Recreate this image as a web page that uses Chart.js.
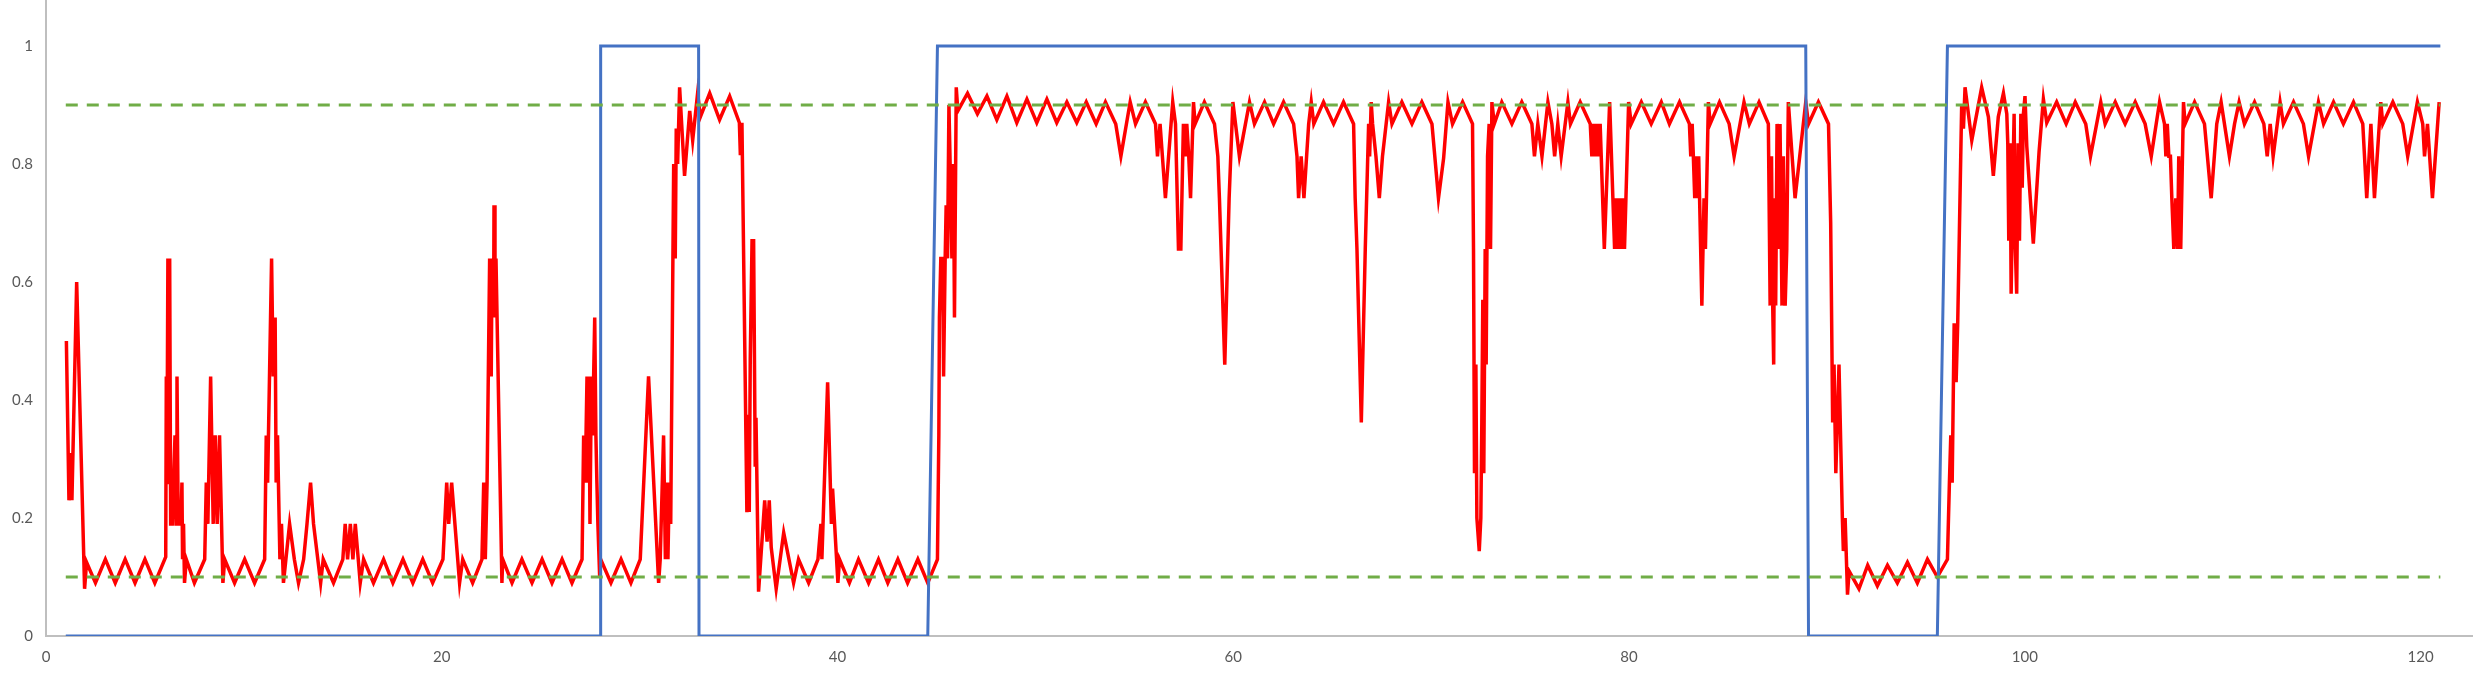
<!DOCTYPE html>
<html>
<head>
<meta charset="utf-8">
<script src="https://cdn.jsdelivr.net/npm/chart.js@4/dist/chart.umd.min.js"></script>
<style>
  html, body { margin: 0; padding: 0; background: #ffffff; }
  #wrap { width: 2473px; height: 677px; }
</style>
</head>
<body>
<div id="wrap"><canvas id="graph" width="2473" height="677"></canvas></div>
<script>
// tick labels
var xTicks = [0, 20, 40, 60, 80, 100, 120];
var yTicks = [0, 0.2, 0.4, 0.6, 0.8, 1];

// blue state line (0 / 1)
var blueX = [1, 28, 28.03, 32.98, 33, 44.56, 45.05, 88.93, 89.07, 95.58, 96.09, 121];
var blueY = [0, 0, 1, 1, 0, 0, 1, 1, 0, 0, 1, 1];

// green dashed limits
var limitX = [1, 121];
var upperLimit = 0.9;
var lowerLimit = 0.1;

// red signal, [x, y]
var redSeries = [
  [1.03,0.50],[1.16,0.23],[1.26,0.31],[1.31,0.23],[1.55,0.60],[1.95,0.08],[2.05,0.125],[2.5,0.09],[3.0,0.13],[3.5,0.09],
  [4.0,0.13],[4.5,0.09],[5.0,0.13],[5.5,0.09],[6.05,0.134],[6.08,0.44],[6.11,0.26],[6.16,0.64],[6.22,0.26],[6.25,0.64],
  [6.3,0.19],[6.38,0.19],[6.52,0.34],[6.57,0.19],[6.62,0.44],[6.68,0.19],[6.82,0.19],[6.87,0.26],[6.9,0.13],[6.95,0.19],
  [7.0,0.09],[7.09,0.13],[7.5,0.09],[8.02,0.13],[8.1,0.26],[8.18,0.19],[8.32,0.44],[8.45,0.19],[8.55,0.34],[8.65,0.19],
  [8.77,0.34],[8.94,0.09],[9.03,0.13],[9.53,0.09],[10.04,0.13],[10.54,0.09],[11.05,0.13],[11.13,0.34],[11.2,0.26],[11.4,0.64],
  [11.48,0.44],[11.58,0.54],[11.63,0.26],[11.7,0.34],[11.82,0.13],[11.9,0.19],[12.0,0.09],[12.31,0.19],[12.55,0.13],[12.76,0.09],
  [13.02,0.13],[13.19,0.19],[13.37,0.26],[13.52,0.19],[13.88,0.09],[14.01,0.13],[14.53,0.09],[15.0,0.13],[15.12,0.19],[15.24,0.13],
  [15.38,0.19],[15.51,0.13],[15.63,0.19],[15.88,0.09],[16.05,0.13],[16.55,0.09],[17.06,0.13],[17.53,0.09],[18.04,0.13],[18.54,0.09],
  [19.04,0.13],[19.54,0.09],[20.06,0.13],[20.25,0.26],[20.35,0.19],[20.5,0.26],[20.9,0.09],[21.06,0.13],[21.56,0.09],[22.03,0.13],
  [22.12,0.26],[22.2,0.13],[22.29,0.26],[22.42,0.64],[22.5,0.44],[22.54,0.64],[22.62,0.54],[22.64,0.73],[22.69,0.54],[22.74,0.64],
  [23.04,0.09],[23.08,0.13],[23.55,0.09],[24.05,0.13],[24.56,0.09],[25.07,0.13],[25.57,0.09],[26.08,0.13],[26.58,0.09],[27.09,0.13],
  [27.17,0.34],[27.25,0.26],[27.34,0.44],[27.39,0.26],[27.46,0.34],[27.49,0.19],[27.56,0.44],[27.62,0.34],[27.73,0.54],[27.79,0.34],
  [27.84,0.26],[27.89,0.19],[27.98,0.1],[28.03,0.13],[28.55,0.09],[29.06,0.13],[29.56,0.09],[30.03,0.13],[30.45,0.44],[30.96,0.09],
  [31.04,0.13],[31.21,0.34],[31.3,0.13],[31.38,0.26],[31.43,0.13],[31.5,0.26],[31.57,0.19],[31.72,0.8],[31.8,0.64],[31.85,0.86],
  [31.92,0.8],[32.02,0.93],[32.27,0.78],[32.53,0.89],[32.68,0.84],[32.93,0.92],[33.07,0.88],[33.54,0.92],[34.04,0.875],[34.55,0.915],
  [35.04,0.87],[35.09,0.815],[35.17,0.87],[35.42,0.21],[35.51,0.375],[35.54,0.21],[35.59,0.47],[35.68,0.67],[35.76,0.67],[35.84,0.29],
  [35.88,0.37],[36.01,0.075],[36.32,0.23],[36.44,0.16],[36.55,0.23],[36.65,0.15],[36.9,0.08],[37.28,0.175],[37.78,0.09],[38.03,0.13],
  [38.54,0.09],[39.01,0.13],[39.16,0.19],[39.21,0.13],[39.5,0.43],[39.69,0.19],[39.75,0.25],[40.02,0.09],[40.1,0.13],[40.6,0.09],
  [41.06,0.13],[41.57,0.09],[42.07,0.13],[42.54,0.09],[43.05,0.13],[43.54,0.09],[44.06,0.13],[44.56,0.09],[45.05,0.13],[45.12,0.34],
  [45.15,0.54],[45.22,0.64],[45.32,0.64],[45.36,0.44],[45.44,0.64],[45.49,0.73],[45.56,0.64],[45.63,0.9],[45.69,0.8],[45.78,0.64],
  [45.86,0.8],[45.91,0.54],[46.0,0.93],[46.08,0.89],[46.57,0.92],[47.07,0.885],[47.55,0.915],[48.05,0.875],[48.56,0.915],[49.06,0.87],
  [49.57,0.91],[50.07,0.87],[50.58,0.91],[51.08,0.87],[51.59,0.905],[52.09,0.87],[52.57,0.905],[53.07,0.868],[53.54,0.905],[54.06,0.868],
  [54.32,0.813],[54.79,0.905],[55.06,0.868],[55.56,0.905],[56.07,0.868],[56.17,0.813],[56.3,0.868],[56.57,0.742],[56.94,0.905],[57.08,0.868],
  [57.23,0.656],[57.35,0.656],[57.48,0.868],[57.57,0.813],[57.65,0.868],[57.75,0.813],[57.84,0.742],[57.99,0.905],[58.07,0.868],[58.54,0.905],
  [59.05,0.868],[59.22,0.813],[59.3,0.742],[59.57,0.46],[59.79,0.742],[59.98,0.905],[60.31,0.813],[60.82,0.905],[61.07,0.868],[61.58,0.905],
  [62.04,0.868],[62.54,0.905],[63.05,0.868],[63.22,0.813],[63.3,0.742],[63.43,0.813],[63.57,0.742],[63.81,0.868],[63.94,0.905],[64.07,0.868],
  [64.56,0.905],[65.07,0.868],[65.57,0.905],[66.08,0.868],[66.16,0.742],[66.25,0.656],[66.47,0.362],[66.67,0.656],[66.84,0.868],[66.89,0.813],
  [66.97,0.905],[67.04,0.868],[67.21,0.813],[67.38,0.742],[67.54,0.813],[67.85,0.905],[68.02,0.868],[68.52,0.905],[69.03,0.868],[69.53,0.905],
  [70.04,0.868],[70.37,0.742],[70.63,0.81],[70.85,0.905],[71.08,0.868],[71.59,0.905],[72.09,0.868],[72.14,0.656],[72.19,0.276],[72.26,0.46],
  [72.31,0.2],[72.43,0.144],[72.51,0.2],[72.56,0.362],[72.61,0.57],[72.66,0.276],[72.73,0.656],[72.78,0.46],[72.85,0.813],[72.93,0.868],
  [73.0,0.656],[73.07,0.905],[73.19,0.868],[73.57,0.905],[74.08,0.868],[74.58,0.905],[75.09,0.868],[75.22,0.813],[75.39,0.868],[75.6,0.813],
  [75.9,0.905],[76.1,0.868],[76.24,0.813],[76.4,0.868],[76.57,0.813],[76.91,0.905],[77.04,0.868],[77.53,0.905],[78.04,0.868],[78.12,0.813],
  [78.21,0.868],[78.29,0.813],[78.38,0.868],[78.46,0.813],[78.54,0.868],[78.75,0.656],[79.02,0.905],[79.27,0.656],[79.35,0.742],[79.44,0.656],
  [79.52,0.742],[79.61,0.656],[79.69,0.742],[79.77,0.656],[79.98,0.905],[80.11,0.868],[80.62,0.905],[81.12,0.868],[81.63,0.905],[82.04,0.868],
  [82.55,0.905],[83.05,0.868],[83.12,0.813],[83.19,0.868],[83.25,0.813],[83.32,0.742],[83.39,0.813],[83.46,0.742],[83.52,0.813],[83.68,0.56],
  [83.79,0.742],[83.86,0.656],[84.01,0.905],[84.1,0.868],[84.57,0.905],[85.06,0.868],[85.31,0.813],[85.81,0.905],[86.08,0.868],[86.57,0.905],
  [87.04,0.868],[87.13,0.56],[87.2,0.813],[87.26,0.56],[87.31,0.46],[87.35,0.742],[87.41,0.56],[87.48,0.868],[87.57,0.656],[87.63,0.868],
  [87.73,0.56],[87.8,0.813],[87.89,0.56],[87.97,0.656],[88.05,0.905],[88.39,0.742],[88.93,0.905],[89.07,0.868],[89.57,0.905],[90.08,0.868],
  [90.19,0.7],[90.29,0.362],[90.36,0.46],[90.45,0.276],[90.61,0.46],[90.78,0.2],[90.83,0.144],[90.92,0.2],[91.04,0.07],[91.12,0.11],
  [91.62,0.08],[92.06,0.12],[92.55,0.085],[93.06,0.12],[93.56,0.09],[94.07,0.125],[94.57,0.09],[95.08,0.13],[95.58,0.1],[96.09,0.13],
  [96.19,0.26],[96.26,0.34],[96.33,0.26],[96.43,0.53],[96.53,0.43],[96.61,0.53],[96.81,0.9],[96.9,0.86],[96.98,0.93],[97.32,0.84],
  [97.82,0.93],[98.16,0.88],[98.41,0.78],[98.66,0.88],[98.92,0.92],[99.09,0.885],[99.14,0.835],[99.19,0.67],[99.26,0.835],[99.31,0.58],
  [99.39,0.76],[99.46,0.885],[99.51,0.67],[99.59,0.58],[99.66,0.835],[99.73,0.67],[99.8,0.885],[99.87,0.76],[99.93,0.885],[100.01,0.915],
  [100.1,0.83],[100.43,0.665],[100.72,0.82],[100.94,0.91],[101.11,0.87],[101.61,0.905],[102.09,0.868],[102.55,0.905],[103.08,0.868],[103.32,0.813],
  [103.84,0.905],[104.06,0.868],[104.57,0.905],[105.07,0.868],[105.58,0.905],[106.08,0.868],[106.39,0.813],[106.81,0.905],[107.06,0.868],[107.13,0.813],
  [107.2,0.868],[107.28,0.813],[107.36,0.813],[107.43,0.742],[107.53,0.656],[107.63,0.742],[107.72,0.656],[107.78,0.813],[107.88,0.656],[108.02,0.905],
  [108.1,0.868],[108.58,0.905],[109.08,0.868],[109.42,0.742],[109.7,0.868],[109.92,0.905],[110.34,0.813],[110.6,0.868],[110.83,0.905],[111.1,0.868],
  [111.61,0.905],[112.08,0.868],[112.25,0.813],[112.4,0.868],[112.55,0.813],[112.9,0.905],[113.07,0.868],[113.58,0.905],[114.08,0.868],[114.34,0.813],
  [114.84,0.905],[115.1,0.868],[115.6,0.905],[116.1,0.868],[116.61,0.905],[117.08,0.868],[117.28,0.742],[117.49,0.868],[117.67,0.742],[117.99,0.905],
  [118.09,0.868],[118.6,0.905],[119.1,0.868],[119.35,0.813],[119.84,0.905],[120.11,0.868],[120.2,0.813],[120.35,0.868],[120.6,0.742],[120.94,0.905]
];

var toPoints = function (xs, ys) {
    return xs.map(function (x, i) { return { x: x, y: ys[i] }; });
};

var labelFont = { family: 'Lato, "Open Sans", sans-serif', size: 15 };
var labelColor = '#595959';
var axisColor = '#BFBFBF';

var ctx = document.getElementById('graph').getContext('2d');
var graph = new Chart(ctx, {
    type: 'scatter',
    data: {
        datasets: [
            {
                label: 'upper',
                data: limitX.map(function (x) { return { x: x, y: upperLimit }; }),
                showLine: true,
                borderColor: '#70AD47',
                borderWidth: 3,
                borderDash: [12, 9],
                pointRadius: 0,
                order: 0
            },
            {
                label: 'lower',
                data: limitX.map(function (x) { return { x: x, y: lowerLimit }; }),
                showLine: true,
                borderColor: '#70AD47',
                borderWidth: 3,
                borderDash: [12, 9],
                pointRadius: 0,
                order: 1
            },
            {
                label: 'state',
                data: toPoints(blueX, blueY),
                showLine: true,
                borderColor: '#4472C4',
                borderWidth: 3,
                pointRadius: 0,
                order: 2
            },
            {
                label: 'signal',
                data: redSeries.map(function (p) { return { x: p[0], y: p[1] }; }),
                showLine: true,
                borderColor: '#FF0000',
                borderWidth: 3.5,
                pointRadius: 0,
                order: 3
            }
        ]
    },
    options: {
        responsive: false,
        animation: false,
        layout: { padding: 0 },
        plugins: {
            legend: { display: false },
            tooltip: { enabled: false }
        },
        scales: {
            x: {
                type: 'linear',
                position: 'bottom',
                min: 0,
                max: 122.65,
                grid: { display: false, drawTicks: false },
                border: { display: true, color: axisColor, width: 2 },
                afterBuildTicks: function (scale) {
                    scale.ticks = xTicks.map(function (v) { return { value: v }; });
                },
                afterFit: function (scale) {
                    scale.height = 41;
                    scale.paddingLeft = 0;
                    scale.paddingRight = 0;
                },
                ticks: {
                    color: labelColor,
                    font: labelFont,
                    padding: 12,
                    maxRotation: 0,
                    callback: function (v) { return String(v); }
                }
            },
            y: {
                type: 'linear',
                position: 'left',
                min: 0,
                max: 1.078,
                grid: { display: false, drawTicks: false },
                border: { display: true, color: axisColor, width: 2 },
                afterBuildTicks: function (scale) {
                    scale.ticks = yTicks.map(function (v) { return { value: v }; });
                },
                afterFit: function (scale) {
                    scale.width = 46;
                    scale.paddingTop = 0;
                    scale.paddingBottom = 0;
                },
                ticks: {
                    color: labelColor,
                    font: labelFont,
                    padding: 13,
                    callback: function (v) { return String(v); }
                }
            }
        }
    }
});
</script>
</body>
</html>
